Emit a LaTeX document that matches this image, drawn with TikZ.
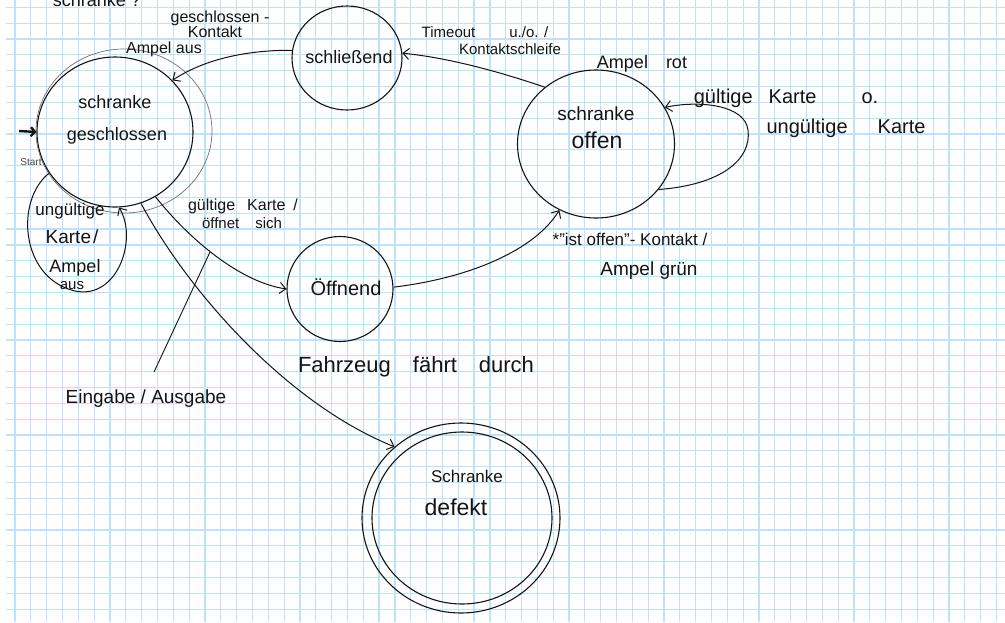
\documentclass[tikz,border=0pt]{standalone}
\usepackage{fontspec}
\setmainfont{Liberation Sans}
\usetikzlibrary{arrows.meta,shapes.geometric}
\definecolor{gridblue}{RGB}{190,226,250}
\definecolor{ink}{RGB}{20,20,20}
\begin{document}
\begin{tikzpicture}[x=1pt,y=-1pt,
  gridline/.style={draw=gridblue, line width=1.2pt},
  state/.style={draw=ink, ellipse, line width=1.1pt, inner sep=0pt},
  ring/.style={draw=ink!60, ellipse, line width=0.7pt, inner sep=0pt},
  trans/.style={draw=ink, line width=1pt, -{Straight Barb[length=6pt,width=11pt]}},
  startarr/.style={draw=ink, line width=2.4pt, -{Straight Barb[length=4pt,width=9pt]}},
  pointer/.style={draw=ink, line width=0.9pt},
  hand/.style={text=ink, inner sep=0pt, anchor=base, font=\fontsize{#1}{#1}\selectfont},
  hand/.default=17,
]
\useasboundingbox (0,0) rectangle (1005,622);
\clip (0,0) rectangle (1005,622);
\fill[white] (0,0) rectangle (1005,622);

% squared paper
\foreach \i in {0,...,62} \draw[gridline] ({15+15.83*\i},0) -- ({15+15.83*\i},622);
\foreach \j in {0,...,38} \draw[gridline] (6,{7.3+15.84*\j}) -- (1005,{7.3+15.84*\j});

% states
\node[state, minimum width=156pt, minimum height=150pt] (c1) at (115,132) {};
\node[ring, minimum width=176pt, minimum height=164pt] (c1ring) at (124,131) {};
\node[state, minimum width=110pt, minimum height=104pt] (sl) at (347,58) {};
\node[state, minimum width=157pt, minimum height=148pt] (of) at (596,144) {};
\node[state, minimum width=106pt, minimum height=105pt] (oe) at (340,289) {};
\node[state, minimum width=198pt, minimum height=190pt] (df) at (461,518) {};
\node[state, minimum width=180pt, minimum height=172pt] (dfin) at (462,518) {};

% state names
\node[hand=18] (tq) at (97,6) {schranke ?};
\node[hand=18] (c1a) at (115,108) {schranke};
\node[hand=18] (c1b) at (117,140) {geschlossen};
\node[hand=18] (slt) at (349,63) {schließend};
\node[hand=19] (oft1) at (596,120) {schranke};
\node[hand=23] (oft2) at (597,148) {offen};
\node[hand=20] (oet) at (346,295) {Öffnend};
\node[hand=17] (dft1) at (467,482) {Schranke};
\node[hand=23] (dft2) at (456,515) {defekt};
\node[hand=10, text=ink!80] (startlbl) at (31,165) {Start};

% transitions
\coordinate (startpt) at (19,131);
\draw[startarr] (startpt) -- (c1.west);
\draw[trans] (sl.172) .. controls (240,50) and (200,62) .. (c1.42);
\draw[trans] (of.132) .. controls (500,72) and (450,58) .. (sl.5);
\draw[trans] (of.-36) .. controls (720,185) and (752,160) .. (748,130)
                      .. controls (745,105) and (700,100) .. (of.28);
\draw[trans] (oe.2) .. controls (470,278) and (535,250) .. (of.241);
\draw[trans] (c1.-58) .. controls (190,240) and (240,282) .. (oe.180);
\draw[trans] (c1.-70) .. controls (190,295) and (290,405) .. (df.133);
\draw[trans] (c1.-148) .. controls (15,200) and (20,278) .. (75,291)
                       .. controls (118,300) and (138,238) .. (c1.-87);

% pointer to the input/output notation
\coordinate (ioA) at (210,252);
\coordinate (ioB) at (154,372);
\draw[pointer] (ioA) -- (ioB);

% transition labels
\node[hand=16] (lgk1) at (220,22) {geschlossen -};
\node[hand=16] (lgk2) at (215,37) {Kontakt};
\node[hand=16] (laus) at (164,53) {Ampel aus};
\node[hand=15] (lto) at (485,37) {Timeout\hspace{34pt}u./o. /};
\node[hand=15] (lks) at (510,54) {Kontaktschleife};
\node[hand=18] (lrot) at (642,68) {Ampel\hspace{18pt}rot};
\node[hand=20] (lgk) at (786,103) {gültige\hspace{16pt}Karte\hspace{45pt}o.};
\node[hand=20] (lugk) at (846,133) {ungültige\hspace{30pt}Karte};
\node[hand=17] (lio) at (630,245) {*"ist offen"- Kontakt /};
\node[hand=19] (lgr) at (649,275) {Ampel grün};
\node[hand=22] (lfd) at (416,372) {Fahrzeug\hspace{22pt}fährt\hspace{22pt}durch};
\node[hand=19] (lea) at (146,403) {Eingabe / Ausgabe};
\node[hand=16] (lgo1) at (243,210) {gültige\hspace{12pt}Karte\hspace{8pt}/};
\node[hand=15] (lgo2) at (242,228) {öffnet\hspace{16pt}sich};
\node[hand=17] (lu1) at (70,215) {ungültige};
\node[hand=19] (lu2) at (72,243) {Karte\hspace{2pt}/};
\node[hand=18] (lu3) at (75,272) {Ampel};
\node[hand=15] (lu4) at (72,289) {aus};
\end{tikzpicture}
\end{document}
